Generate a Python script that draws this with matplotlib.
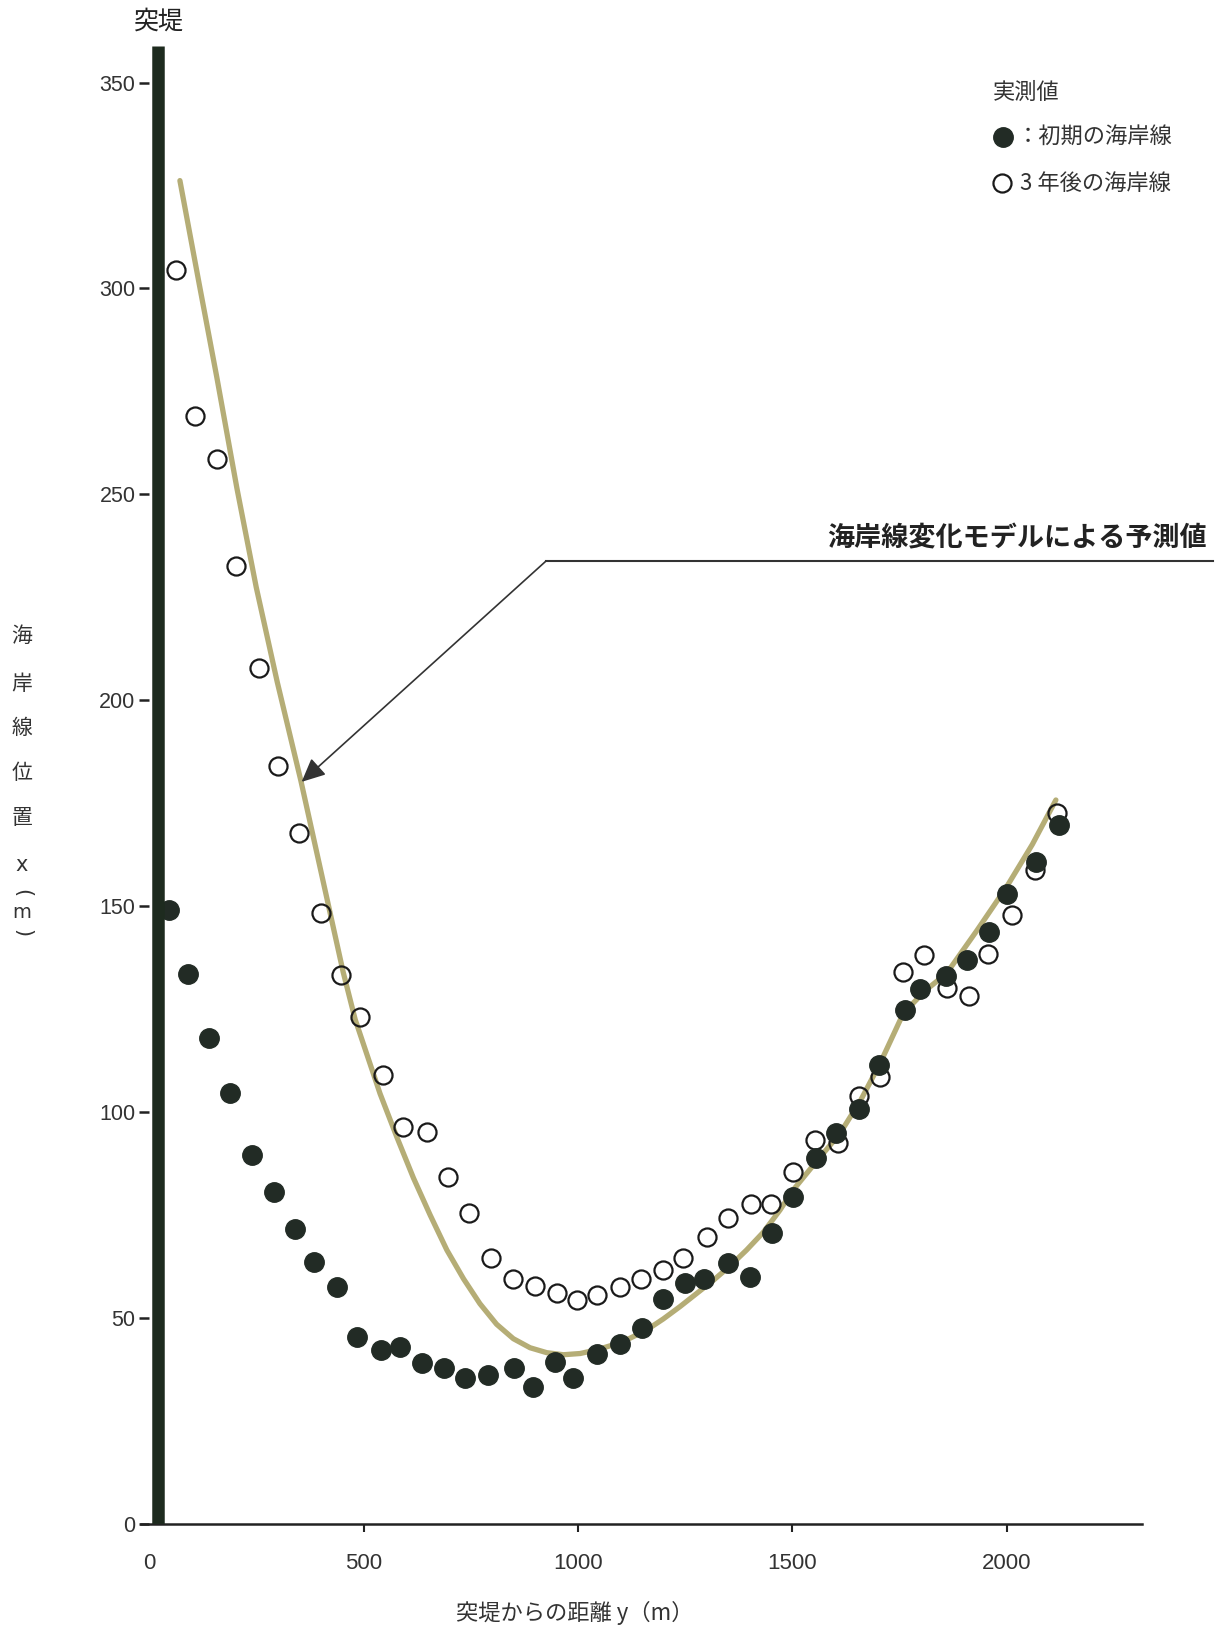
import matplotlib
matplotlib.use('Agg')
import matplotlib.pyplot as plt
from matplotlib import font_manager

# 実測値 (初期の海岸線)
filled_x = [46, 90, 139, 188, 239, 290, 339, 383, 437, 485, 540, 585, 637, 688, 737, 791, 851, 896, 946, 989,
            1044, 1099, 1149, 1199, 1249, 1293, 1349, 1401, 1453, 1502, 1556, 1602, 1656, 1702, 1762, 1798,
            1859, 1907, 1959, 2000, 2068, 2122]
filled_y = [149, 133.5, 118, 104.6, 89.6, 80.5, 71.6, 63.5, 57.6, 45.4, 42.2, 43.1, 39.2, 37.8, 35.4, 36.2,
            37.8, 33.3, 39.4, 35.4, 41.4, 43.6, 47.7, 54.7, 58.6, 59.6, 63.4, 60.0, 70.7, 79.4, 88.8, 94.9,
            100.8, 111.4, 124.7, 130, 133, 137, 143.7, 153, 160.7, 169.8]

# 実測値 (3年後の海岸線)
open_x = [62, 106, 158, 203, 256, 299, 349, 400, 448, 491, 544, 592, 647, 697, 746, 797, 848, 900, 950, 997,
          1045, 1098, 1148, 1198, 1246, 1302, 1351, 1403, 1450, 1501, 1553, 1607, 1656, 1705, 1759, 1807,
          1860, 1912, 1957, 2012, 2066, 2117]
open_y = [304.5, 269.1, 258.5, 232.7, 207.8, 184.1, 167.8, 148.4, 133.3, 123.2, 109.1, 96.3, 95.2, 84.3,
          75.4, 64.5, 59.6, 57.9, 56.2, 54.4, 55.6, 57.6, 59.6, 61.7, 64.7, 69.8, 74.2, 77.7, 77.7, 85.5,
          93.2, 92.4, 103.9, 108.5, 134.1, 138.2, 130.1, 128.2, 138.4, 147.8, 158.8, 172.6]

# 海岸線変化モデルによる予測値
model_x = [71, 118, 157, 204, 249, 298, 353, 400, 452, 480, 538, 577, 616, 655, 694, 733, 771, 810, 849,
           888, 927, 966, 1005, 1044, 1082, 1121, 1160, 1199, 1238, 1277, 1316, 1355, 1393, 1432, 1471,
           1502, 1556, 1611, 1660, 1705, 1759, 1810, 1860, 1930, 2000, 2060, 2115]
model_y = [326.2, 300.0, 278.5, 251.5, 227.5, 204.5, 180.6, 158.5, 134.0, 122.5, 104.5, 94.0, 84.0, 75.0,
           66.5, 59.5, 53.5, 48.5, 45.0, 42.8, 41.6, 41.1, 41.4, 42.3, 43.5, 45.1, 47.1, 49.8, 52.8, 56.0,
           59.2, 62.7, 66.5, 70.8, 76.2, 81.1, 88.0, 94.8, 103.0, 111.9, 124.0, 129.5, 133.7, 144.0, 154.7,
           165.0, 175.8]

x_ticks = [0, 500, 1000, 1500, 2000]
y_ticks = [0, 50, 100, 150, 200, 250, 300, 350]

JP = ['Noto Sans CJK JP', 'DejaVu Sans']
names = {f.name for f in font_manager.fontManager.ttflist}
narrow = 'Liberation Sans Narrow' if 'Liberation Sans Narrow' in names else 'Liberation Sans'

W, H = 1223, 1639
def fx(px):
    return px / W
def fy(py):
    return 1 - py / H

fig = plt.figure(figsize=(12.23, 16.39), dpi=100)
fig.patch.set_facecolor('white')
ax = fig.add_axes([0.11522, 0.07016, 0.81822, 0.91715])
ax.set_xlim(-20, 2315)
ax.set_ylim(0, 365)

# 突堤
ax.plot([20, 20], [0, 359], color='#1e2b1f', lw=9, solid_capstyle='butt', zorder=5)

ax.plot(model_x, model_y, color='#b5ad76', lw=3.8, solid_capstyle='round', solid_joinstyle='round', zorder=2)
ax.plot(open_x, open_y, 'o', ms=13, mfc='none', mec='#1a1a1a', mew=1.6, zorder=3)
ax.plot(filled_x, filled_y, 'o', ms=14, mfc='#222b25', mec='#222b25', zorder=4)

# axes
for s in ['top', 'right', 'left']:
    ax.spines[s].set_visible(False)
ax.spines['left'].set_position(('data', 0))
ax.spines['bottom'].set_linewidth(1.8)
ax.spines['bottom'].set_color('#222222')
ax.set_xticks(x_ticks)
ax.set_yticks(y_ticks)
ax.set_xticklabels([str(v) for v in x_ticks], fontfamily=narrow, fontsize=16, color='#333333')
ax.set_yticklabels([str(v) for v in y_ticks], fontfamily='Liberation Sans', fontsize=15.5, color='#333333')
ax.tick_params(axis='x', direction='out', length=6, width=1.5, pad=15, color='#222222')
ax.tick_params(axis='y', direction='out', length=7, width=1.8, pad=3, color='#222222')
ax.xaxis.get_major_ticks()[0].tick1line.set_visible(False)

# annotation
ax.annotate('', xy=(355, 180.2), xytext=(925, 233.8),
            arrowprops=dict(arrowstyle='-|>,head_length=0.6,head_width=0.28', lw=1.2,
                            color='#333333', mutation_scale=24, shrinkA=0, shrinkB=0),
            annotation_clip=False, zorder=6)
ax.plot([925, 2481], [233.8, 233.8], color='#333333', lw=1.5, clip_on=False, zorder=6)
fig.text(fx(1207), fy(538), '海岸線変化モデルによる予測値', family=JP, fontsize=19.5,
         fontweight='bold', color='#222222', ha='right', va='center')

# labels
fig.text(fx(159), fy(22), '突堤', family=JP, fontsize=18, color='#222222', ha='center', va='center')
fig.text(fx(575), fy(1613), '突堤からの距離 y（m）', family=JP, fontsize=16, color='#333333',
         ha='center', va='center')

ylab = ['海', '岸', '線', '位', '置']
ylab_pos = [636, 684, 728, 773, 818]
for ch, py in zip(ylab, ylab_pos):
    fig.text(fx(22), fy(py), ch, family=JP, fontsize=15, color='#333333', ha='center', va='center')
fig.text(fx(22), fy(865), 'x', family='DejaVu Sans', fontsize=15, color='#333333', ha='center', va='center')
fig.text(fx(22), fy(893), '(', family='DejaVu Sans', fontsize=15, rotation=-90, color='#333333',
         ha='center', va='center')
fig.text(fx(22), fy(912), 'm', family='DejaVu Sans', fontsize=14, color='#333333', ha='center', va='center')
fig.text(fx(22), fy(933), ')', family='DejaVu Sans', fontsize=15, rotation=-90, color='#333333',
         ha='center', va='center')

# legend
fig.text(fx(993), fy(92), '実測値', family=JP, fontsize=16, color='#333333', ha='left', va='center')
fig.lines.append(plt.Line2D([fx(1003)], [fy(137)], marker='o', ms=14, mfc='#222b25', mec='#222b25',
                            transform=fig.transFigure))
fig.text(fx(1017), fy(137), '：初期の海岸線', family=JP, fontsize=16, color='#333333', ha='left', va='center')
fig.lines.append(plt.Line2D([fx(1002)], [fy(183)], marker='o', ms=13, mfc='none', mec='#1a1a1a', mew=1.6,
                            transform=fig.transFigure))
fig.text(fx(1020), fy(183), '3 年後の海岸線', family=JP, fontsize=16, color='#333333', ha='left', va='center')

fig.savefig('out.png', dpi=100, facecolor='white')
